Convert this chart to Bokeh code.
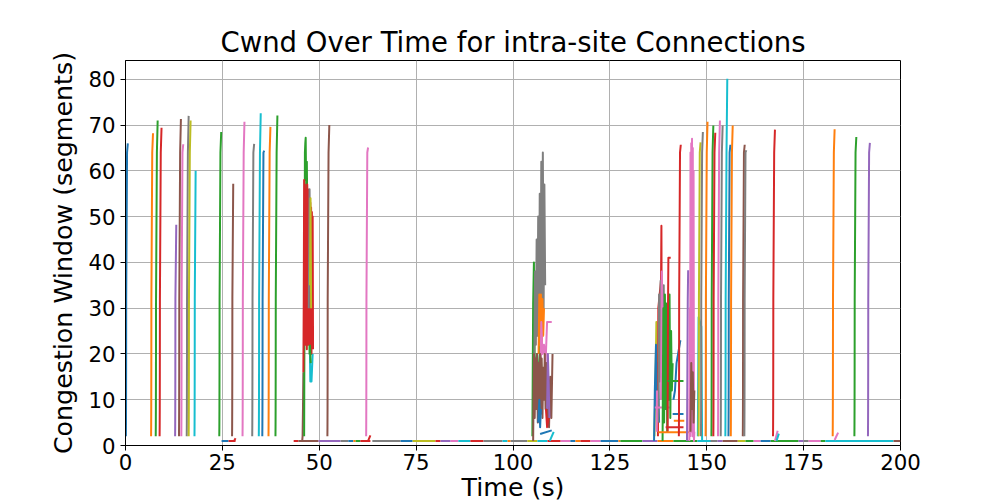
from bokeh.plotting import figure
from bokeh.embed import file_html
from bokeh.resources import INLINE

PALETTE = ["#1f77b4", "#ff7f0e", "#2ca02c", "#d62728", "#9467bd",
           "#8c564b", "#e377c2", "#7f7f7f", "#bcbd22", "#17becf"]

X_TICKS = [0, 25, 50, 75, 100, 125, 150, 175, 200]
Y_TICKS = [0, 10, 20, 30, 40, 50, 60, 70, 80]

# slow-start profile (time offset, cwnd)
SS_DT = [0.0, 0.02, 0.04, 0.06, 0.08, 0.3, 0.5]
SS_CWND = [2, 4, 8, 16, 32, 64]

# isolated slow-start spikes
SPIKE_T = [0.1, 6.6, 7.8, 8.8, 12.8, 13.8, 14.4, 15.8, 16.3, 17.8,
           24.2, 27.5, 30.2, 32.7, 34.4, 35.3, 36.9, 38.7,
           52.1, 62.1,
           142.8, 147.9, 148.5, 149.7, 151.2, 151.7, 152.9, 153.6, 154.8, 155.6, 156.2, 159.3, 159.7,
           167.1, 182.5, 188.1, 191.6]
SPIKE_PEAK = [66, 68.2, 71, 69.4, 48.2, 71.3, 65.8, 72, 71, 60,
              68.5, 57.2, 70.7, 65.9, 72.6, 64.4, 69.6, 72.1,
              70, 65.1,
              65.7, 66.2, 68.5, 70.7, 69.9, 68.3, 71, 69.9, 80.1, 65.7, 69.9, 65.7, 64.5,
              69, 69.1, 67.4, 66.1]
SPIKE_COLOR = [0, 1, 2, 3, 4, 5, 6, 7, 8, 9,
               2, 5, 6, 7, 9, 0, 1, 2,
               5, 6,
               3, 8, 7, 1, 2, 3, 6, 7, 9, 0, 1, 5, 7,
               3, 1, 2, 4]

# cwnd = 1 stretches along the bottom
BASE_T0 = [24.8, 26.6, 43.4, 44.6, 49.8, 55.5, 57.5, 58.8, 59.4, 60.6,
           63.7, 71.0, 74.1, 80.0, 81.3, 83.9, 85.9, 89.0, 92.4, 97.3,
           98.6, 99.4, 103.7, 106.3, 108.9, 112.3, 114.8, 116.1, 117.4, 120.0,
           122.6, 127.2, 127.7, 133.4, 137.3, 141.4, 147.6, 150.2, 152.8, 154.1,
           158.0, 160.0, 162.1, 163.9, 166.5, 173.7, 175.0, 176.3, 179.4, 180.6,
           198.2]
BASE_T1 = [26.6, 28.4, 44.6, 49.8, 55.5, 57.5, 58.8, 59.4, 60.6, 63.2,
           71.0, 74.1, 80.0, 81.3, 83.9, 85.9, 89.0, 92.4, 97.3, 98.6,
           99.4, 103.7, 106.3, 108.9, 112.3, 114.8, 116.1, 117.4, 120.0, 122.6,
           127.2, 127.7, 133.4, 137.3, 141.4, 147.6, 150.2, 152.8, 154.1, 158.0,
           160.0, 162.1, 163.9, 166.5, 173.7, 175.0, 176.3, 179.4, 180.6, 198.2,
           200.0]
BASE_C = [0, 3, 3, 5, 4, 7, 0, 1, 2, 3,
          7, 0, 8, 3, 4, 6, 9, 3, 7, 9,
          1, 7, 8, 9, 3, 6, 0, 1, 3, 6,
          0, 1, 2, 4, 1, 2, 9, 7, 4, 5,
          8, 2, 6, 0, 2, 4, 7, 6, 2, 9,
          5]
BASE_Y = 1.0

# small upticks at the ends of cwnd=1 stretches
HOOK_X = [[28.0, 28.4], [62.6, 63.2], [167.6, 168.3], [168.0, 168.6], [183.0, 183.9]]
HOOK_Y = [[1, 1.6], [1, 2.2], [1, 3.2], [1, 2.6], [1.2, 2.8]]
HOOK_C = [3, 3, 6, 9, 6]

# burst around 45-48 s
CL_A_X = [[45.6, 45.7, 45.8, 45.9],
          [46.1, 46.2, 46.3, 46.4, 46.5, 46.6, 46.8, 47.0, 47.2, 47.5, 47.7],
          [45.9, 46.0, 46.1, 46.2, 46.3, 46.4, 46.5, 46.6, 46.7, 46.8, 46.9, 47.0, 47.1, 47.2,
           47.3, 47.4, 47.5, 47.6, 47.7, 47.8, 47.9, 48.0, 48.1, 48.2, 48.3, 48.4],
          [47.3, 47.5, 47.6, 47.8],
          [47.6, 47.75, 47.9],
          [47.6, 47.7, 48.0, 48.3],
          [47.6, 47.8]]
CL_A_Y = [[1, 2, 8, 16],
          [2, 32, 64, 66, 67.2, 58, 62, 40, 50, 20, 22],
          [16, 32, 58, 25, 57, 22, 56, 26, 55, 21, 57, 24, 56, 22,
           55, 24, 54, 22, 53, 23, 52, 20, 51, 22, 50, 21],
          [30, 56, 45, 35],
          [35, 54, 30],
          [20, 14, 14, 20],
          [22, 18]]
CL_A_C = [5, 2, 3, 7, 8, 9, 2]

# burst around 105-110 s
CL_B_X = [[105.0, 105.2, 105.4, 105.6, 106.2, 106.5, 107.0, 107.5],
          [105.5, 105.7, 105.9, 106.1, 106.3, 106.5, 106.7, 106.9, 107.1, 107.3, 107.5, 107.7, 107.9, 108.1, 108.3],
          [106.6, 106.8, 107.0, 107.2, 107.4, 107.6, 107.8, 108.0],
          [107.1, 107.3, 107.6, 108.0, 108.4, 108.8, 109.3, 110.0],
          [105.2, 105.4, 105.6, 105.8, 106.0, 106.2, 106.4, 106.6, 106.8, 107.0, 107.2, 107.4,
           107.6, 107.8, 108.0, 108.2, 108.4, 108.6, 108.8, 109.0, 109.3, 109.6, 109.9, 110.2],
          [108.8, 109.0, 109.2, 109.4],
          [106.5, 106.8, 107.0, 107.2],
          [107.0, 110.0],
          [108.5, 108.8, 109.2],
          [109.5, 110.5]]
CL_B_Y = [[2, 31, 40, 15, 20, 12, 22, 14],
          [18, 38, 22, 45, 24, 50, 23, 55, 25, 62, 28, 64, 30, 57, 35],
          [20, 33, 22, 33, 21, 32, 24, 30],
          [15, 27, 20, 22, 18, 27, 27, 27],
          [1, 20, 6, 19, 8, 20, 5, 18, 9, 20, 7, 19,
           6, 17, 10, 20, 8, 18, 5, 17, 4, 15, 6, 20],
          [8, 20, 14, 6],
          [5, 10, 4, 8],
          [2.5, 3.3],
          [8, 4, 6],
          [1, 3]]
CL_B_C = [2, 7, 1, 6, 5, 4, 0, 0, 3, 9]

# burst around 136-148 s
CL_C_X = [[136.5, 136.8, 137.0, 137.2, 137.4],
          [136.4, 136.6, 136.9, 137.1, 137.4, 137.7],
          [137.4, 137.5, 138.2, 138.3, 138.4],
          [137.5, 137.7, 137.9, 138.1, 138.3, 138.5, 138.7, 138.9, 139.1, 139.3],
          [138.2, 138.4, 138.6, 138.8],
          [136.6, 140.6],
          [137.1, 137.15],
          [138.6, 138.8, 139.0, 139.2, 139.4, 139.6, 139.8, 140.0, 140.2, 140.4, 140.6, 140.8, 141.0, 141.2],
          [139.9, 140.0, 140.1, 140.7],
          [141.4, 141.8, 142.2, 142.6, 143.0, 143.2],
          [139.9, 144.0],
          [141.2, 144.0],
          [141.5, 144.2],
          [139.4, 144.0],
          [137.5, 145.5],
          [144.9, 145.0, 145.1, 145.2],
          [145.5, 145.6, 145.7, 145.8, 145.9, 146.0, 146.1, 146.2, 146.3, 146.4, 146.5, 146.6, 146.7, 146.8],
          [145.8, 146.0, 146.2, 146.4, 146.6, 146.8],
          [147.7, 147.9, 148.6, 148.8, 151.0]]
CL_C_Y = [[2, 15, 27, 10, 20],
          [1, 12, 22, 8, 18, 5],
          [2, 30, 36, 48, 20],
          [5, 33, 14, 36, 15, 34, 16, 35, 14, 25],
          [10, 38, 20, 30],
          [8.3, 8.3],
          [3, 12],
          [1, 30, 5, 33, 8, 31, 3, 28, 10, 33, 6, 25, 12, 18],
          [3, 30, 41, 41],
          [10, 12, 18, 20, 22, 23],
          [14.1, 14.1],
          [6.9, 6.9],
          [5.4, 5.4],
          [4.0, 4.0],
          [2.9, 2.9],
          [1, 16, 32, 38.3],
          [1, 30, 2, 64, 3, 66, 4, 67, 2, 65, 5, 60, 1, 3],
          [3, 18, 8, 16, 5, 12],
          [2, 28, 26, 1, 1]]
CL_C_C = [8, 0, 3, 7, 6, 6, 6, 2, 3, 0, 2, 0, 1, 3, 1, 4, 6, 5, 9]

FONT = "DejaVu Sans"

p = figure(width=992, height=492, x_range=(0, 200), y_range=(0, 84.1),
           output_backend="svg", toolbar_location=None,
           title="Cwnd Over Time for intra-site Connections",
           frame_width=775, frame_height=385,
           min_border_left=125, min_border_right=92,
           min_border_top=60, min_border_bottom=47)

p.title.text_font = FONT
p.title.text_font_size = "27.5px"
p.title.text_font_style = "normal"
p.title.align = "center"
p.title.text_color = "black"
p.title.standoff = 6

for ax in (p.xaxis[0], p.yaxis[0]):
    ax.major_label_text_font = FONT
    ax.major_label_text_font_size = "21.3px"
    ax.major_label_text_color = "black"
    ax.axis_label_text_font = FONT
    ax.axis_label_text_font_size = "25.3px"
    ax.axis_label_text_font_style = "normal"
    ax.axis_label_text_color = "black"
    ax.major_tick_in = 0
    ax.major_tick_out = 5
    ax.minor_tick_line_color = None
    ax.axis_line_color = "black"
    ax.major_tick_line_color = "black"

p.xaxis.ticker = X_TICKS
p.yaxis.ticker = Y_TICKS
p.xaxis.axis_label = "Time (s)"
p.yaxis.axis_label = "Congestion Window (segments)"
p.xaxis.major_label_standoff = 3
p.yaxis.major_label_standoff = 5
p.xaxis.axis_label_standoff = 0
p.yaxis.axis_label_standoff = 7

p.grid.grid_line_color = "#b0b0b0"
p.grid.grid_line_width = 1
p.outline_line_color = "black"
p.outline_line_width = 1
p.background_fill_color = "white"
p.border_fill_color = "white"

LW = 2

# cwnd=1 stretches
for t0, t1, c in zip(BASE_T0, BASE_T1, BASE_C):
    p.line([t0, t1], [BASE_Y, BASE_Y], line_color=PALETTE[c], line_width=LW)
for xs, ys, c in zip(HOOK_X, HOOK_Y, HOOK_C):
    p.line(xs, ys, line_color=PALETTE[c], line_width=LW, line_join="round")

# bursts
for X, Y, C in ((CL_A_X, CL_A_Y, CL_A_C), (CL_B_X, CL_B_Y, CL_B_C), (CL_C_X, CL_C_Y, CL_C_C)):
    for xs, ys, c in zip(X, Y, C):
        p.line(xs, ys, line_color=PALETTE[c], line_width=LW, line_join="round")

# slow-start spikes
for t, peak, c in zip(SPIKE_T, SPIKE_PEAK, SPIKE_COLOR):
    xs, ys = [], []
    for i, w in enumerate(SS_CWND):
        if w >= peak:
            break
        xs.append(t + SS_DT[i])
        ys.append(w)
    xs.append(t + SS_DT[len(xs)])
    ys.append(peak)
    p.line(xs, ys, line_color=PALETTE[c], line_width=LW, line_join="round")

open("out.html", "w").write(file_html(p, INLINE))
